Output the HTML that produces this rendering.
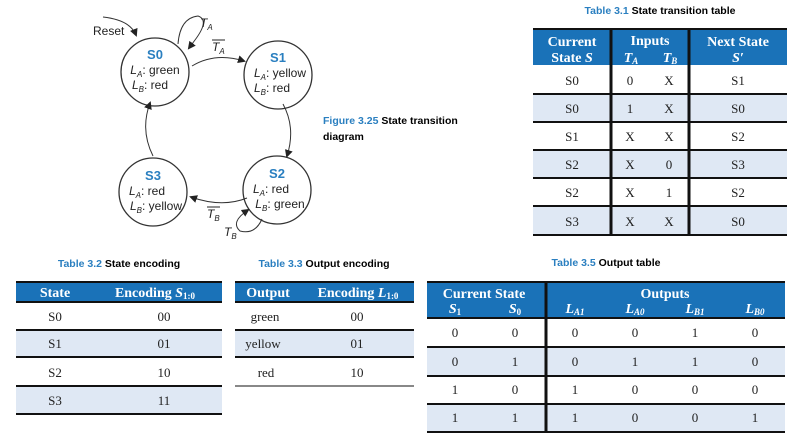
<!DOCTYPE html>
<html><head><meta charset="utf-8"><style>
body{margin:0;background:#fff;width:790px;height:440px;overflow:hidden}
svg{display:block}
.t{font-family:"Liberation Serif",serif;font-size:13px;fill:#222}
.h{font-family:"Liberation Serif",serif;font-size:14px;font-weight:bold;fill:#fff}
.cap{font-family:"Liberation Sans",sans-serif;font-size:10.5px;font-weight:bold}
.d{font-family:"Liberation Sans",sans-serif;font-size:12px;fill:#222}
.s{font-family:"Liberation Sans",sans-serif;font-size:13px;font-weight:bold;fill:#2a7fc0}
</style></head><body>
<svg width="790" height="440" viewBox="0 0 790 440" xmlns="http://www.w3.org/2000/svg">
<defs><marker id="a" markerWidth="8" markerHeight="8" refX="6" refY="4" orient="auto" markerUnits="userSpaceOnUse"><path d="M0,0L8,4L0,8z" fill="#222"/></marker></defs>
<g fill="none" stroke="#333" stroke-width="1">
<circle cx="155" cy="72" r="34" stroke-width="1.3"/>
<circle cx="278" cy="75" r="34" stroke-width="1.3"/>
<circle cx="277" cy="190" r="34" stroke-width="1.3"/>
<circle cx="153" cy="192" r="34" stroke-width="1.3"/>
<path d="M103,17 Q130,20 136,35" marker-end="url(#a)"/>
<path d="M178,44 Q180,18 198,16 Q210,20 195,40 L189,48" marker-end="url(#a)"/>
<path d="M192,66 Q215,52 244,61" marker-end="url(#a)"/>
<path d="M283,104 Q296,128 287,156" marker-end="url(#a)"/>
<path d="M247,198 Q222,208 191,197" marker-end="url(#a)"/>
<path d="M262,219 Q255,235 240,231 Q230,222 248,210" marker-end="url(#a)"/>
<path d="M153,156 Q140,130 150,103" marker-end="url(#a)"/>
</g>
<text class="d" x="93" y="35">Reset</text>
<text class="d" x="200" y="27" font-style="italic">T<tspan font-size="8" dy="3">A</tspan></text>
<text class="d" x="212" y="51" font-style="italic">T<tspan font-size="8" dy="3">A</tspan></text><line x1="212" y1="40" x2="225" y2="40" stroke="#222"/>
<text class="d" x="207" y="218" font-style="italic">T<tspan font-size="8" dy="3">B</tspan></text><line x1="207" y1="207" x2="220" y2="207" stroke="#222"/>
<text class="d" x="224" y="236" font-style="italic">T<tspan font-size="8" dy="3">B</tspan></text>
<g text-anchor="middle">
<text class="s" x="155" y="59">S0</text><text class="d" x="155" y="74"><tspan font-style="italic">L</tspan><tspan font-size="8" dy="3" font-style="italic">A</tspan><tspan dy="-3">: green</tspan></text><text class="d" x="150" y="89"><tspan font-style="italic">L</tspan><tspan font-size="8" dy="3" font-style="italic">B</tspan><tspan dy="-3">: red</tspan></text>
<text class="s" x="278" y="62">S1</text><text class="d" x="280" y="77"><tspan font-style="italic">L</tspan><tspan font-size="8" dy="3" font-style="italic">A</tspan><tspan dy="-3">: yellow</tspan></text><text class="d" x="272" y="92"><tspan font-style="italic">L</tspan><tspan font-size="8" dy="3" font-style="italic">B</tspan><tspan dy="-3">: red</tspan></text>
<text class="s" x="277" y="178">S2</text><text class="d" x="271" y="193"><tspan font-style="italic">L</tspan><tspan font-size="8" dy="3" font-style="italic">A</tspan><tspan dy="-3">: red</tspan></text><text class="d" x="280" y="208"><tspan font-style="italic">L</tspan><tspan font-size="8" dy="3" font-style="italic">B</tspan><tspan dy="-3">: green</tspan></text>
<text class="s" x="153" y="180">S3</text><text class="d" x="147" y="195"><tspan font-style="italic">L</tspan><tspan font-size="8" dy="3" font-style="italic">A</tspan><tspan dy="-3">: red</tspan></text><text class="d" x="156" y="210"><tspan font-style="italic">L</tspan><tspan font-size="8" dy="3" font-style="italic">B</tspan><tspan dy="-3">: yellow</tspan></text>
</g>
<text class="cap" x="323" y="124"><tspan fill="#2a7fc0">Figure 3.25</tspan> State transition</text>
<text class="cap" x="323" y="140">diagram</text>

<!-- Table 3.1 -->
<text class="cap" x="660" y="14" text-anchor="middle"><tspan fill="#2a7fc0">Table 3.1</tspan> State transition table</text>
<rect x="533" y="29" width="254" height="36" fill="#1a72b8"/>
<rect x="533" y="94" width="254" height="28" fill="#dfe8f4"/>
<rect x="533" y="150" width="254" height="28" fill="#dfe8f4"/>
<rect x="533" y="206" width="254" height="29" fill="#dfe8f4"/>
<g stroke="#111" stroke-width="2"><line x1="533" y1="29" x2="787" y2="29"/><line x1="533" y1="94" x2="787" y2="94"/><line x1="533" y1="122" x2="787" y2="122"/><line x1="533" y1="150" x2="787" y2="150"/><line x1="533" y1="178" x2="787" y2="178"/><line x1="533" y1="206" x2="787" y2="206"/><line x1="533" y1="235" x2="787" y2="235"/></g>
<g stroke="#111" stroke-width="3"><line x1="611" y1="29" x2="611" y2="235"/><line x1="689" y1="29" x2="689" y2="235"/></g>
<g text-anchor="middle">
<text class="h" x="572" y="46">Current</text><text class="h" x="572" y="62">State <tspan font-style="italic">S</tspan></text>
<text class="h" x="650" y="45">Inputs</text><text class="h" x="631" y="62" font-style="italic">T<tspan font-size="9" dy="2">A</tspan></text><text class="h" x="670" y="62" font-style="italic">T<tspan font-size="9" dy="2">B</tspan></text>
<text class="h" x="738" y="46">Next State</text><text class="h" x="738" y="62" font-style="italic">S′</text>
<g class="t">
<text x="572" y="85">S0</text><text x="630" y="85">0</text><text x="669" y="85">X</text><text x="738" y="85">S1</text>
<text x="572" y="113">S0</text><text x="630" y="113">1</text><text x="669" y="113">X</text><text x="738" y="113">S0</text>
<text x="572" y="141">S1</text><text x="630" y="141">X</text><text x="669" y="141">X</text><text x="738" y="141">S2</text>
<text x="572" y="169">S2</text><text x="630" y="169">X</text><text x="669" y="169">0</text><text x="738" y="169">S3</text>
<text x="572" y="197">S2</text><text x="630" y="197">X</text><text x="669" y="197">1</text><text x="738" y="197">S2</text>
<text x="572" y="226">S3</text><text x="630" y="226">X</text><text x="669" y="226">X</text><text x="738" y="226">S0</text>
</g></g>

<!-- Table 3.2 -->
<text class="cap" x="119" y="267" text-anchor="middle"><tspan fill="#2a7fc0">Table 3.2</tspan> State encoding</text>
<rect x="16" y="282" width="206" height="20" fill="#1a72b8"/>
<rect x="16" y="330" width="206" height="27" fill="#dfe8f4"/>
<rect x="16" y="386" width="206" height="28" fill="#dfe8f4"/>
<g stroke="#111" stroke-width="2"><line x1="16" y1="282" x2="222" y2="282"/><line x1="16" y1="302" x2="222" y2="302"/><line x1="16" y1="330" x2="222" y2="330"/><line x1="16" y1="357" x2="222" y2="357"/><line x1="16" y1="386" x2="222" y2="386"/><line x1="16" y1="414" x2="222" y2="414"/></g>
<g text-anchor="middle">
<text class="h" x="55" y="297">State</text><text class="h" x="155" y="297">Encoding <tspan font-style="italic">S</tspan><tspan font-size="9" dy="2">1:0</tspan></text>
<g class="t"><text x="55" y="321">S0</text><text x="164" y="321">00</text><text x="55" y="348">S1</text><text x="164" y="348">01</text><text x="55" y="377">S2</text><text x="164" y="377">10</text><text x="55" y="405">S3</text><text x="164" y="405">11</text></g>
</g>

<!-- Table 3.3 -->
<text class="cap" x="324" y="267" text-anchor="middle"><tspan fill="#2a7fc0">Table 3.3</tspan> Output encoding</text>
<rect x="235" y="282" width="179" height="20" fill="#1a72b8"/>
<rect x="235" y="330" width="179" height="27" fill="#dfe8f4"/>
<g stroke="#111" stroke-width="2"><line x1="235" y1="282" x2="414" y2="282"/><line x1="235" y1="302" x2="414" y2="302"/><line x1="235" y1="330" x2="414" y2="330"/><line x1="235" y1="357" x2="414" y2="357"/></g>
<line x1="235" y1="386" x2="414" y2="386" stroke="#111" stroke-width="1"/>
<g text-anchor="middle">
<text class="h" x="268" y="297">Output</text><text class="h" x="358" y="297">Encoding <tspan font-style="italic">L</tspan><tspan font-size="9" dy="2">1:0</tspan></text>
<g class="t"><text x="265" y="321">green</text><text x="357" y="321">00</text><text x="263" y="348">yellow</text><text x="357" y="348">01</text><text x="266" y="377">red</text><text x="357" y="377">10</text></g>
</g>

<!-- Table 3.5 -->
<text class="cap" x="606" y="266" text-anchor="middle"><tspan fill="#2a7fc0">Table 3.5</tspan> Output table</text>
<rect x="427" y="282" width="358" height="36" fill="#1a72b8"/>
<rect x="427" y="347" width="358" height="29" fill="#dfe8f4"/>
<rect x="427" y="404" width="358" height="28" fill="#dfe8f4"/>
<g stroke="#111" stroke-width="2"><line x1="427" y1="282" x2="785" y2="282"/><line x1="427" y1="318" x2="785" y2="318"/><line x1="427" y1="347" x2="785" y2="347"/><line x1="427" y1="376" x2="785" y2="376"/><line x1="427" y1="404" x2="785" y2="404"/><line x1="427" y1="432" x2="785" y2="432"/></g>
<line x1="546" y1="282" x2="546" y2="432" stroke="#111" stroke-width="3"/>
<g text-anchor="middle">
<text class="h" x="484" y="298">Current State</text>
<text class="h" x="455" y="313" font-style="italic">S<tspan font-size="9" dy="2" font-style="normal">1</tspan></text>
<text class="h" x="515" y="313" font-style="italic">S<tspan font-size="9" dy="2" font-style="normal">0</tspan></text>
<text class="h" x="665" y="298">Outputs</text>
<text class="h" x="575" y="313" font-style="italic">L<tspan font-size="9" dy="2">A1</tspan></text>
<text class="h" x="635" y="313" font-style="italic">L<tspan font-size="9" dy="2">A0</tspan></text>
<text class="h" x="695" y="313" font-style="italic">L<tspan font-size="9" dy="2">B1</tspan></text>
<text class="h" x="755" y="313" font-style="italic">L<tspan font-size="9" dy="2">B0</tspan></text>
<g class="t">
<text x="455" y="337">0</text><text x="515" y="337">0</text><text x="575" y="337">0</text><text x="635" y="337">0</text><text x="695" y="337">1</text><text x="755" y="337">0</text>
<text x="455" y="366">0</text><text x="515" y="366">1</text><text x="575" y="366">0</text><text x="635" y="366">1</text><text x="695" y="366">1</text><text x="755" y="366">0</text>
<text x="455" y="394">1</text><text x="515" y="394">0</text><text x="575" y="394">1</text><text x="635" y="394">0</text><text x="695" y="394">0</text><text x="755" y="394">0</text>
<text x="455" y="422">1</text><text x="515" y="422">1</text><text x="575" y="422">1</text><text x="635" y="422">0</text><text x="695" y="422">0</text><text x="755" y="422">1</text>
</g></g>
</svg>
</body></html>
